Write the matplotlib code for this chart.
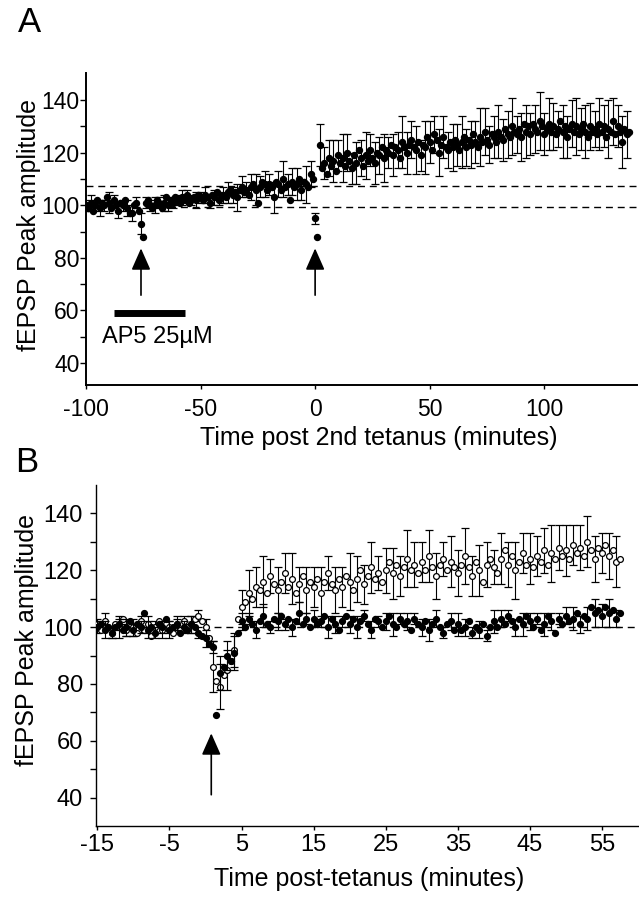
import numpy as np
import matplotlib.pyplot as plt

plt.rcParams['font.family'] = ['Liberation Sans', 'DejaVu Sans']
plt.rcParams['axes.unicode_minus'] = False

# ---------------- panel A: one pathway, AP5 during 1st tetanus ----------------
time_a = np.arange(-100, 138)  # minutes, one sweep per minute
amp_a = [
    100, 99, 101, 98, 100, 102, 99, 101, 100, 103,
    101, 99, 102, 100, 98, 101, 100, 102, 99, 97,
    97, 100, 101, 98, 93, 88, 101, 102, 100, 99,
    100, 102, 101, 99, 101, 103, 100, 102, 101, 103,
    102, 101, 103, 102, 104, 101, 102, 103, 102, 104,
    103, 102, 104, 103, 101, 104, 103, 105, 102, 104,
    104, 103, 105, 106, 104, 105, 103, 106, 107, 105,
    106, 104, 107, 108, 106, 101, 107, 109, 108, 106,
    108, 107, 103, 109, 108, 106, 110, 107, 108, 102,
    109, 107, 108, 110, 106, 109, 108, 107, 112, 110,
    95, 88, 123, 114, 116, 112, 118, 115, 117, 113,
    119, 116, 118, 115, 120, 117, 114, 119, 116, 121,
    118, 115, 119, 117, 121, 118, 116, 120, 119, 122,
    118, 121, 120, 123, 119, 122, 121, 118, 124, 122,
    120, 123, 125, 122, 121, 124, 119, 123, 122, 126,
    124, 121, 127, 125, 120, 123, 126, 122, 121, 124,
    122, 125, 123, 121, 124, 126, 122, 125, 123, 127,
    124, 122, 126, 124, 128, 125, 123, 127, 126, 124,
    128, 126, 125, 129, 127, 126, 130, 128, 127, 129,
    126, 131, 128, 130, 127, 131, 129, 128, 132, 130,
    127, 129, 131, 128, 130, 127, 129, 132, 128, 130,
    126, 129, 131, 128, 130, 127, 129, 131, 128, 126,
    130, 128, 129, 127, 131, 128, 130, 126, 129, 128,
    132, 127, 130, 128, 124, 129, 127, 128,
]
# SEM for every second sweep (t = -100, -98, ..., 136)
sem_a = [
    2, 3, 2, 3, 2, 4, 2, 3, 2, 3,
    3, 2, 4, 2, 2, 3, 2, 3, 2, 2,
    2, 3, 2, 2, 3, 2, 3, 2, 3, 2,
    3, 4, 3, 5, 4, 3, 5, 6, 4, 5,
    4, 6, 5, 7, 4, 5, 6, 4, 7, 5,
    2, 8, 6, 7, 8, 6, 9, 7, 6, 8,
    7, 9, 6, 8, 7, 9, 6, 8, 7, 10,
    8, 7, 9, 6, 10, 8, 7, 9, 8, 7,
    9, 8, 10, 7, 9, 8, 11, 9, 7, 8,
    10, 8, 9, 11, 7, 9, 10, 8, 9, 11,
    8, 10, 9, 7, 10, 8, 9, 11, 8, 10,
    9, 7, 10, 8, 11, 9, 8, 10, 9,
]
baseline_lines_a = [107.3, 99.2]
tetanus_a = [-76, 0]

# ---------------- panel B: control vs. AP5 ----------------
time_b = np.arange(-15, 58, 0.5)  # minutes
amp_open = [
    101, 99, 102, 100, 98, 101, 100, 103, 99, 101,
    100, 98, 102, 99, 101, 97, 100, 102, 99, 101,
    100, 98, 101, 99, 102, 100, 101, 103, 104, 102,
    100, 96, 86, 81, 79, 83, 85, 88, 92, 103,
    107, 109, 112, 110, 114, 113, 116, 112, 118, 115,
    113, 116, 119, 114, 117, 112, 115, 118, 113, 116,
    114, 117, 112, 116, 119, 115, 113, 117, 114, 118,
    116, 113, 117, 120, 115, 118, 121, 117, 119, 116,
    120, 123, 119, 122, 118, 121, 124, 120, 122, 119,
    123, 120, 125, 121, 118, 122, 124, 120, 123, 121,
    119, 122, 125, 121, 118, 123, 120, 116, 122, 124,
    121, 119, 124, 127, 122, 125, 120, 123, 126, 122,
    124, 121, 125, 123, 127, 122, 126, 124, 128, 125,
    127, 124, 129, 126, 128, 125, 130, 127, 124, 128,
    126, 129, 125, 127, 123, 124,
]
amp_filled = [
    100, 101, 99, 100, 98, 100, 101, 99, 100, 102,
    99, 101, 100, 105, 99, 100, 98, 101, 100, 103,
    99, 100, 101, 98, 100, 99, 101, 100, 98, 97,
    96, 94, 93, 69, 84, 86, 90, 88, 91, 98,
    102, 100, 103, 101, 99, 102, 104, 101, 100, 103,
    102, 104, 101, 103, 100, 102, 105, 101, 103, 100,
    103, 101, 102, 104, 100, 103, 101, 99, 102, 104,
    101, 103, 100, 102, 104, 101, 99, 103, 102, 100,
    102, 104, 101, 100, 103, 101, 102, 99, 103, 101,
    100, 102, 99, 101, 103, 100, 98, 101, 102, 99,
    101, 99, 100, 102, 98, 100, 99, 101, 97, 100,
    102, 100, 103, 101, 104, 102, 100, 103, 101, 104,
    102, 100, 103, 99, 101, 104, 102, 98, 103, 101,
    104, 102, 103, 105, 101, 104, 103, 107, 105, 106,
    104, 107, 105, 106, 103, 105,
]
# SEM for every second point (t = -15, -14, ..., 57)
sem_open = [
    2, 3, 2, 4, 2, 3, 2, 3, 2, 3,
    2, 3, 2, 3, 2, 3, 9, 8, 7, 6,
    6, 8, 7, 9, 6, 8, 7, 9, 6, 8,
    7, 9, 6, 8, 7, 10, 8, 7, 9, 6,
    8, 9, 7, 10, 8, 7, 9, 8, 6, 9,
    8, 10, 7, 9, 8, 6, 9, 8, 10, 7,
    9, 7, 8, 10, 8, 9, 7, 8, 9, 8,
    7, 8, 9,
]
sem_filled = [
    2, 3, 2, 2, 3, 2, 2, 3, 2, 2,
    3, 2, 2, 3, 2, 3, 2, 6, 5, 6,
    3, 2, 3, 4, 2, 3, 2, 3, 4, 2,
    3, 2, 4, 3, 2, 3, 4, 2, 3, 2,
    3, 4, 2, 3, 2, 3, 4, 3, 2, 3,
    4, 3, 2, 3, 2, 4, 3, 2, 3, 4,
    3, 2, 4, 3, 2, 3, 4, 3, 4, 5,
    4, 5, 3,
]
tetanus_b = 0.8

fig = plt.figure(figsize=(6.39, 8.99), dpi=100)
axA = fig.add_axes([0.1346, 0.5717, 0.8623, 0.347])
axB = fig.add_axes([0.1502, 0.0812, 0.848, 0.3793])

arrow_kw = dict(arrowstyle='-|>,head_length=0.95,head_width=0.42', mutation_scale=14,
                lw=1.2, color='black', shrinkA=0, shrinkB=0)

# ---- A ----
for yv in baseline_lines_a:
    axA.axhline(yv, color='black', lw=1.0, ls=(0, (5, 3.5)), zorder=1)
axA.errorbar(time_a[::2], amp_a[::2], yerr=sem_a, fmt='none', ecolor='black',
             elinewidth=0.8, capsize=2.9, capthick=0.9, zorder=2)
axA.plot(time_a, amp_a, 'o', color='black', ms=4.3, zorder=3)
for t in tetanus_a:
    axA.annotate('', xy=(t, 83.6), xytext=(t, 65.8), arrowprops=arrow_kw)
axA.plot([-88, -57], [59, 59], color='black', lw=5, solid_capstyle='butt')
axA.text(-93, 47.5, 'AP5 25\u00b5M', fontsize=17, va='baseline', ha='left')

axA.set_xlim(-100, 140.5)
axA.set_ylim(31.6, 150.3)
axA.set_xticks([-100, -50, 0, 50, 100])
axA.set_yticks([40, 60, 80, 100, 120, 140])
axA.set_yticks(np.arange(40, 150, 10), minor=True)
axA.tick_params(axis='y', which='both', direction='out', length=4, width=1, labelsize=16.5, pad=0.5)
axA.tick_params(axis='x', which='both', direction='out', length=3, width=1, labelsize=16.5, pad=6.5)
axA.set_xlabel('Time post 2nd tetanus (minutes)', fontsize=18)
axA.set_ylabel('fEPSP Peak amplitude', fontsize=18)
axA.xaxis.set_label_coords(0.532, -0.17)
axA.xaxis.label.set_va('center')
axA.yaxis.set_label_coords(-0.103, 0.513)
axA.yaxis.label.set_va('center')

# ---- B ----
axB.axhline(100, color='black', lw=1.0, ls=(0, (5, 3.5)), zorder=1)
axB.errorbar(time_b[::2], amp_open[::2], yerr=sem_open, fmt='none', ecolor='black',
             elinewidth=0.8, capsize=2.9, capthick=0.9, zorder=2)
axB.plot(time_b, amp_open, 'o', mfc='white', mec='black', mew=0.9, ms=4.2, zorder=3)
axB.errorbar(time_b[::2], amp_filled[::2], yerr=sem_filled, fmt='none', ecolor='black',
             elinewidth=0.8, capsize=2.9, capthick=0.9, zorder=4)
axB.plot(time_b, amp_filled, 'o', color='black', ms=4.2, zorder=5)
axB.annotate('', xy=(tetanus_b, 62.6), xytext=(tetanus_b, 41), arrowprops=arrow_kw)

axB.set_xlim(-15.2, 60)
axB.set_ylim(30, 150)
axB.set_xticks(np.arange(-15, 60, 10))
axB.set_yticks([40, 60, 80, 100, 120, 140])
axB.set_yticks(np.arange(40, 150, 10), minor=True)
axB.tick_params(axis='y', which='both', direction='out', length=4.5, width=1, labelsize=17, pad=5)
axB.tick_params(axis='x', which='both', direction='out', length=3, width=1, labelsize=17, pad=3)
axB.set_xlabel('Time post-tetanus (minutes)', fontsize=18)
axB.set_ylabel('fEPSP Peak amplitude', fontsize=18)
axB.xaxis.set_label_coords(0.505, -0.155)
axB.xaxis.label.set_va('center')
axB.yaxis.set_label_coords(-0.127, 0.545)
axB.yaxis.label.set_va('center')

for ax, lw in ((axA, 1.4), (axB, 1.0)):
    ax.spines['top'].set_visible(False)
    ax.spines['right'].set_visible(False)
    ax.spines['left'].set_linewidth(lw)
    ax.spines['bottom'].set_linewidth(lw)

fig.text(0.028, 0.9644, 'A', fontsize=25, va='baseline', ha='left')
fig.text(0.0235, 0.475, 'B', fontsize=25, va='baseline', ha='left')

fig.savefig('out.png', dpi=100)
